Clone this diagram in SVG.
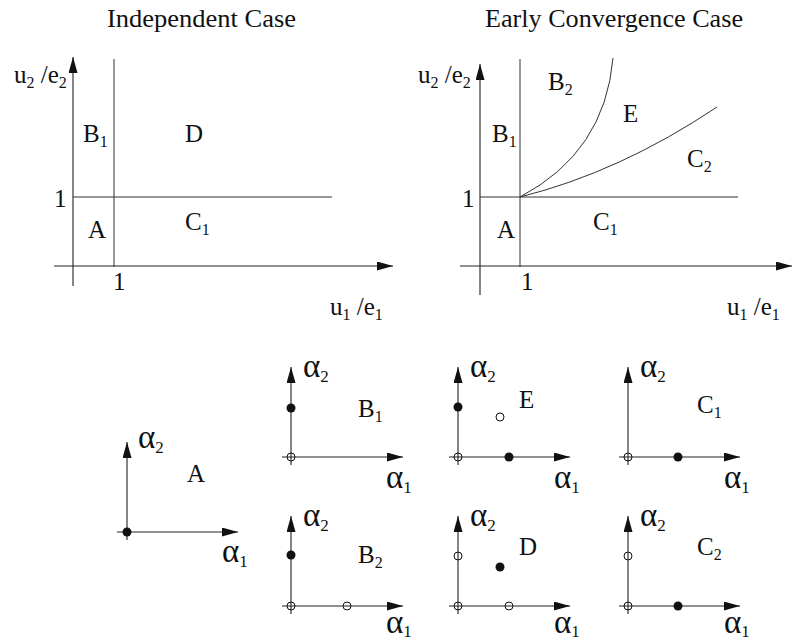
<svg xmlns="http://www.w3.org/2000/svg" width="792" height="642" viewBox="0 0 792 642">
<defs>
<marker id="arr" markerWidth="17" markerHeight="10" refX="16" refY="4.5" orient="auto" markerUnits="userSpaceOnUse"><path d="M0,0 L16,4.5 L0,9 z" fill="#111"/></marker>
<style>
.ax{stroke:#222;stroke-width:1.1;fill:none}
.axa{stroke:#222;stroke-width:1.1;fill:none;marker-end:url(#arr)}
.ln{stroke:#333;stroke-width:1;fill:none}
text{font-family:"Liberation Serif","Times New Roman",serif;fill:#111}
.t{font-size:25px}
.l{font-size:25px}
.s{font-size:16px}
.a{font-size:33px}
.as{font-size:17px}
.fd{fill:#111;stroke:none}
.od{fill:none;stroke:#111;stroke-width:1}
</style>
</defs>
<rect width="792" height="642" fill="#fff"/>

<g id="independent">
<text class="t" x="107" y="27" textLength="189" lengthAdjust="spacingAndGlyphs">Independent Case</text>
<line class="axa" x1="73" y1="286" x2="73" y2="57"/>
<line class="axa" x1="54" y1="266" x2="393" y2="266"/>
<line class="ln" x1="114" y1="59" x2="114" y2="267"/>
<line class="ln" x1="73" y1="197" x2="332" y2="197"/>
<text class="l" x="14" y="83">u<tspan class="s" dy="5">2</tspan><tspan dy="-5"> /e</tspan><tspan class="s" dy="5">2</tspan></text>
<text class="l" x="83" y="142">B<tspan class="s" dy="5">1</tspan></text>
<text class="l" x="185" y="142">D</text>
<text class="l" x="54" y="207">1</text>
<text class="l" x="88" y="238">A</text>
<text class="l" x="185" y="230">C<tspan class="s" dy="5">1</tspan></text>
<text class="l" x="113" y="290">1</text>
<text class="l" x="330" y="315">u<tspan class="s" dy="5">1</tspan><tspan dy="-5"> /e</tspan><tspan class="s" dy="5">1</tspan></text>
</g>

<g id="early">
<text class="t" x="485" y="27" textLength="258" lengthAdjust="spacingAndGlyphs">Early Convergence Case</text>
<line class="axa" x1="480" y1="295" x2="480" y2="64"/>
<line class="axa" x1="460" y1="266" x2="792" y2="266"/>
<line class="ln" x1="520" y1="59" x2="520" y2="267"/>
<line class="ln" x1="480" y1="197" x2="738" y2="197"/>
<path class="ln" d="M520,197 Q605,152 613,58"/>
<path class="ln" d="M520,197 Q620,172 717,107"/>
<text class="l" x="418" y="83">u<tspan class="s" dy="5">2</tspan><tspan dy="-5"> /e</tspan><tspan class="s" dy="5">2</tspan></text>
<text class="l" x="548" y="90">B<tspan class="s" dy="5">2</tspan></text>
<text class="l" x="623" y="122">E</text>
<text class="l" x="492" y="142">B<tspan class="s" dy="5">1</tspan></text>
<text class="l" x="687" y="167">C<tspan class="s" dy="5">2</tspan></text>
<text class="l" x="462" y="207">1</text>
<text class="l" x="497" y="238">A</text>
<text class="l" x="593" y="230">C<tspan class="s" dy="5">1</tspan></text>
<text class="l" x="521" y="290">1</text>
<text class="l" x="727" y="315">u<tspan class="s" dy="5">1</tspan><tspan dy="-5"> /e</tspan><tspan class="s" dy="5">1</tspan></text>
</g>

<g id="panel-A">
<line class="axa" x1="127" y1="540" x2="127" y2="442"/>
<line class="axa" x1="117" y1="532" x2="238" y2="532"/>
<circle class="fd" cx="127" cy="532" r="4.5"/>
<text class="a" x="138" y="448">α<tspan class="as" dy="5">2</tspan></text>
<text class="l" x="187" y="482">A</text>
<text class="a" x="222" y="562">α<tspan class="as" dy="5">1</tspan></text>
</g>

<g id="panel-B1">
<line class="axa" x1="291" y1="465" x2="291" y2="367"/>
<line class="axa" x1="282" y1="457" x2="403" y2="457"/>
<circle class="fd" cx="291" cy="408" r="4.5"/>
<circle class="od" cx="291" cy="457" r="4"/>
<text class="a" x="303" y="377">α<tspan class="as" dy="5">2</tspan></text>
<text class="l" x="358" y="417">B<tspan class="s" dy="5">1</tspan></text>
<text class="a" x="386" y="488">α<tspan class="as" dy="5">1</tspan></text>
</g>

<g id="panel-B2">
<line class="axa" x1="291" y1="614" x2="291" y2="516"/>
<line class="axa" x1="282" y1="606" x2="403" y2="606"/>
<circle class="fd" cx="291" cy="555" r="4.5"/>
<circle class="od" cx="291" cy="606" r="4"/>
<circle class="od" cx="347" cy="606" r="4"/>
<text class="a" x="303" y="526">α<tspan class="as" dy="5">2</tspan></text>
<text class="l" x="358" y="563">B<tspan class="s" dy="5">2</tspan></text>
<text class="a" x="386" y="633">α<tspan class="as" dy="4">1</tspan></text>
</g>

<g id="panel-E">
<line class="axa" x1="458" y1="465" x2="458" y2="367"/>
<line class="axa" x1="449" y1="457" x2="570" y2="457"/>
<circle class="fd" cx="458" cy="407" r="4.5"/>
<circle class="od" cx="500" cy="417" r="4"/>
<circle class="fd" cx="509" cy="457" r="4.5"/>
<circle class="od" cx="458" cy="457" r="4"/>
<text class="a" x="470" y="377">α<tspan class="as" dy="5">2</tspan></text>
<text class="l" x="519" y="408">E</text>
<text class="a" x="554" y="488">α<tspan class="as" dy="5">1</tspan></text>
</g>

<g id="panel-C1">
<line class="axa" x1="628" y1="465" x2="628" y2="367"/>
<line class="axa" x1="619" y1="457" x2="740" y2="457"/>
<circle class="fd" cx="678" cy="457" r="4.5"/>
<circle class="od" cx="628" cy="457" r="4"/>
<text class="a" x="640" y="377">α<tspan class="as" dy="5">2</tspan></text>
<text class="l" x="697" y="413">C<tspan class="s" dy="5">1</tspan></text>
<text class="a" x="724" y="488">α<tspan class="as" dy="5">1</tspan></text>
</g>

<g id="panel-D">
<line class="axa" x1="458" y1="614" x2="458" y2="516"/>
<line class="axa" x1="449" y1="606" x2="570" y2="606"/>
<circle class="od" cx="458" cy="556" r="4"/>
<circle class="fd" cx="500" cy="567" r="4.5"/>
<circle class="od" cx="509" cy="606" r="4"/>
<circle class="od" cx="458" cy="606" r="4"/>
<text class="a" x="470" y="526">α<tspan class="as" dy="5">2</tspan></text>
<text class="l" x="519" y="555">D</text>
<text class="a" x="554" y="633">α<tspan class="as" dy="4">1</tspan></text>
</g>

<g id="panel-C2">
<line class="axa" x1="628" y1="614" x2="628" y2="516"/>
<line class="axa" x1="619" y1="606" x2="740" y2="606"/>
<circle class="od" cx="628" cy="556" r="4"/>
<circle class="fd" cx="678" cy="606" r="4.5"/>
<circle class="od" cx="628" cy="606" r="4"/>
<text class="a" x="640" y="526">α<tspan class="as" dy="5">2</tspan></text>
<text class="l" x="697" y="555">C<tspan class="s" dy="5">2</tspan></text>
<text class="a" x="724" y="633">α<tspan class="as" dy="4">1</tspan></text>
</g>
</svg>
